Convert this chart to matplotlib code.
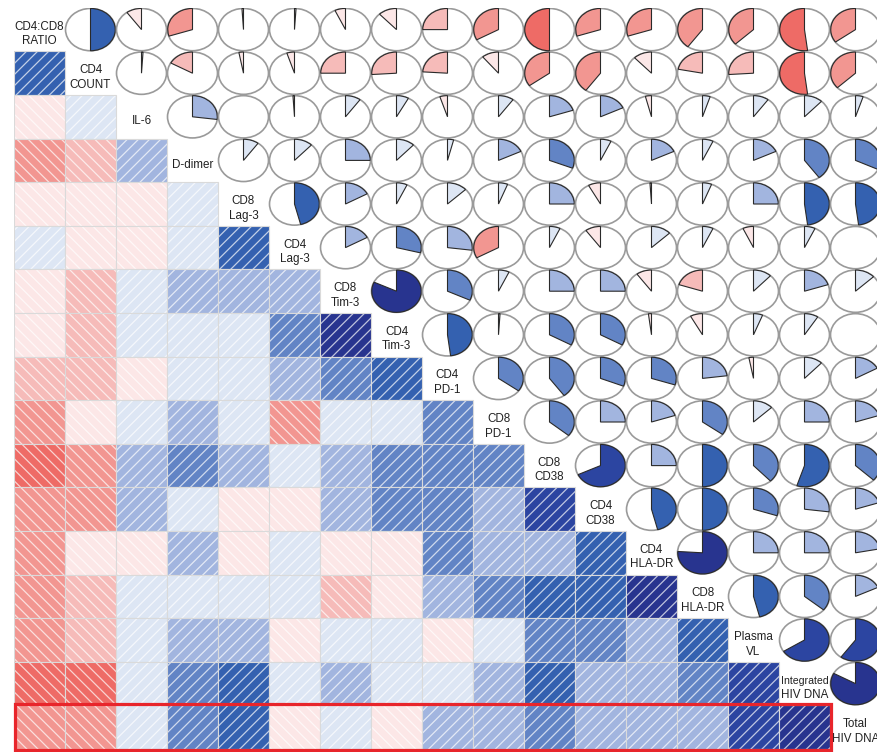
import numpy as np
import matplotlib
matplotlib.use("Agg")
import matplotlib.pyplot as plt
from matplotlib.patches import Rectangle, Wedge, Ellipse

labels = ["CD4:CD8\nRATIO", "CD4\nCOUNT", "IL-6", "D-dimer", "CD8\nLag-3", "CD4\nLag-3",
          "CD8\nTim-3", "CD4\nTim-3", "CD4\nPD-1", "CD8\nPD-1", "CD8\nCD38", "CD4\nCD38",
          "CD4\nHLA-DR", "CD8\nHLA-DR", "Plasma\nVL", "Integrated\nHIV DNA", "Total\nHIV DNA"]

# upper-triangle correlations, row i lists columns i+1 .. 16
r00 = [0.50, -0.10, -0.30, -0.01, 0.01, -0.07, -0.12, -0.25, -0.33, -0.50, -0.30, -0.30, -0.40, -0.37, -0.52, -0.35]
r01 = [0.01, -0.17, -0.03, -0.05, -0.25, -0.26, -0.24, -0.11, -0.35, -0.40, -0.12, -0.22, -0.26, -0.52, -0.37]
r02 = [0.27, -0.002, -0.01, 0.10, 0.08, -0.05, 0.10, 0.20, 0.18, -0.04, 0.05, 0.10, 0.12, 0.05]
r03 = [0.10, 0.12, 0.25, 0.12, 0.04, 0.18, 0.31, 0.07, 0.18, 0.07, 0.18, 0.40, 0.32]
r04 = [0.46, 0.17, 0.07, 0.13, 0.06, 0.25, -0.08, -0.01, 0.06, 0.25, 0.48, 0.48]
r05 = [0.17, 0.29, 0.27, -0.33, 0.07, -0.10, 0.13, 0.07, -0.07, 0.07, -0.002]
r06 = [0.82, 0.32, 0.07, 0.25, 0.25, -0.10, -0.20, 0.12, 0.20, 0.13]
r07 = [0.48, 0.01, 0.33, 0.33, -0.02, -0.08, 0.06, 0.09, -0.002]
r08 = [0.35, 0.40, 0.31, 0.30, 0.23, -0.03, 0.12, 0.17]
r09 = [0.36, 0.25, 0.20, 0.35, 0.13, 0.25, 0.20]
r10 = [0.68, 0.25, 0.50, 0.38, 0.55, 0.37]
r11 = [0.46, 0.50, 0.30, 0.27, 0.20]
r12 = [0.76, 0.25, 0.25, 0.22]
r13 = [0.46, 0.36, 0.18]
r14 = [0.66, 0.60]
r15 = [0.83]
upper_rows = [r00, r01, r02, r03, r04, r05, r06, r07, r08, r09, r10, r11, r12, r13, r14, r15]

# 14-level palette (bins of width 1/7 over [-1, 1])
palette = ["#D7191C", "#E0302E", "#E84A45", "#EE6B66", "#F29691", "#F6BBB9", "#FCE7E7",
           "#DDE6F4", "#A2B5DF", "#6284C5", "#3461B0", "#2C45A1", "#28348F", "#1F2A80"]

n = len(labels)
R = np.eye(n)
for i, row in enumerate(upper_rows):
    for k, v in enumerate(row):
        j = i + 1 + k
        R[i, j] = v
        R[j, i] = v


def color_of(r):
    b = int(np.floor((r + 1) / 2 * 14))
    return palette[min(max(b, 0), 13)]


plt.rcParams["hatch.linewidth"] = 0.9

fig = plt.figure(figsize=(8.77, 7.52), dpi=100, facecolor="white")
ax = fig.add_axes([14 / 877, 3 / 752, 867 / 877, 741.2 / 752])
ax.set_xlim(0, n)
ax.set_ylim(0, n)
ax.axis("off")

for i in range(n):
    y0 = n - 1 - i
    for j in range(n):
        x0 = j
        r = R[i, j]
        if i > j:
            c = color_of(r)
            ax.add_patch(Rectangle((x0, y0), 1, 1, facecolor=c, edgecolor=(1, 1, 1, 0.7), lw=0,
                                   hatch="///" if r >= 0 else "\\\\\\"))
            ax.add_patch(Rectangle((x0, y0), 1, 1, facecolor="none",
                                   edgecolor="#DADADA", lw=0.8))
        elif i < j:
            cx, cy = x0 + 0.5, y0 + 0.5
            ax.add_patch(Ellipse((cx, cy), 0.98, 0.97, facecolor="white",
                                 edgecolor="#9A9A9A", lw=1.2))
            if abs(r) >= 0.005:
                if r > 0:
                    t1, t2 = 90 - 360 * r, 90
                else:
                    t1, t2 = 90, 90 + 360 * abs(r)
                ax.add_patch(Wedge((cx, cy), 0.485, t1, t2, facecolor=color_of(r),
                                   edgecolor="#2A2A2A", lw=0.8))
        else:
            lines = labels[i].split("\n")
            cx, cy = x0 + 0.5, y0 + 0.5 - 0.1
            nl = len(lines)
            step = 0.335
            for k, line in enumerate(lines):
                yy = cy + (nl - 1) / 2 * step - k * step
                fs = 7.6 if len(line) > 8 else 8.4
                ax.text(cx, yy, line, ha="center", va="center", fontsize=fs,
                        color="#222222", family=["Liberation Sans", "DejaVu Sans"])

# highlight the Total HIV DNA row
last = n - 1
ax.add_patch(Rectangle((0.02, -0.03), last - 0.0, 1.06, facecolor="none",
                       edgecolor="#E8252B", lw=2.3, clip_on=False, zorder=10))

fig.savefig("out.png", dpi=100, facecolor="white")
